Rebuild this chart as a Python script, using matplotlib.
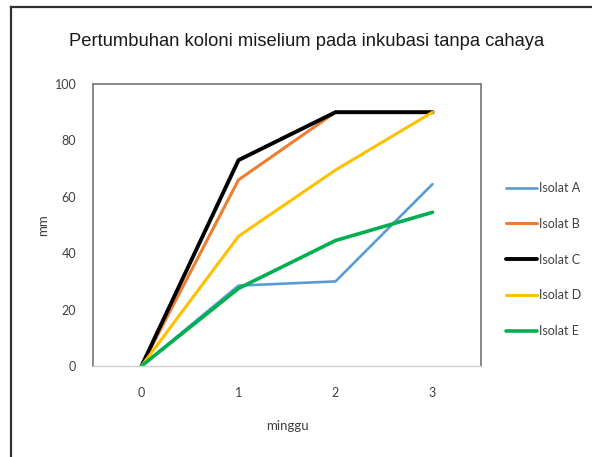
import matplotlib
matplotlib.use("Agg")
import matplotlib.pyplot as plt
from matplotlib.lines import Line2D

# Diameter koloni (mm) per minggu
minggu = ["0", "1", "2", "3"]
isolat_a = [0, 28.5, 30, 64.5]
isolat_b = [0, 66, 90, 90]
isolat_c = [0, 73, 90, 90]
isolat_d = [0, 46, 69.5, 90]
isolat_e = [0, 27.5, 44.5, 54.5]

labels = ["Isolat A", "Isolat B", "Isolat C", "Isolat D", "Isolat E"]
colors = ["#5B9BD5", "#ED7D31", "#000000", "#FFC000", "#00B050"]
widths = [1.9, 2.2, 2.8, 2.2, 2.6]

plt.rcParams["font.family"] = ["Lato", "DejaVu Sans"]

fig = plt.figure(figsize=(5.92, 4.57), dpi=100)
ax = fig.add_axes([93 / 592, 1 - 366 / 457, 388 / 592, 282 / 457])

x = range(len(minggu))
for vals, lab, c, w in zip([isolat_a, isolat_b, isolat_c, isolat_d, isolat_e],
                           labels, colors, widths):
    ax.plot(x, vals, color=c, lw=w, label=lab, solid_capstyle="round")

ax.set_xlim(-0.5, len(minggu) - 0.5)
ax.set_ylim(0, 100)
ax.set_xticks(list(x))
ax.set_xticklabels(minggu)
ax.set_yticks(range(0, 101, 20))
ax.tick_params(length=0, labelsize=9, colors="#404040")
ax.tick_params(axis="y", pad=12)
ax.tick_params(axis="x", pad=15)

for side in ["left", "top", "right"]:
    ax.spines[side].set_color("#808080")
    ax.spines[side].set_linewidth(1.3)
ax.spines["bottom"].set_color("#d0d0d0")
ax.spines["bottom"].set_linewidth(1.0)

ax.set_xlabel("minggu", fontsize=9.5, color="#404040", labelpad=15)
ax.set_ylabel("mm", fontsize=9.5, color="#404040", labelpad=4)

fig.text(0.518, 1 - 42 / 457, "Pertumbuhan koloni miselium pada inkubasi tanpa cahaya",
         ha="center", va="center", fontsize=13.2, family="Liberation Sans",
         color="#1a1a1a")

ax.legend(loc="upper left", bbox_to_anchor=(1.052, 0.67), frameon=False,
          fontsize=9, handlelength=2.5, handletextpad=0.15, labelspacing=1.9,
          labelcolor="#404040", borderaxespad=0)

# bingkai luar
fig.add_artist(Line2D([11 / 592, 11 / 592], [0, 1 - 7 / 457],
                      transform=fig.transFigure, color="#303030", lw=1.6))
fig.add_artist(Line2D([11 / 592, 1], [1 - 7 / 457, 1 - 7 / 457],
                      transform=fig.transFigure, color="#303030", lw=1.6))

fig.savefig("out.png", dpi=100)
